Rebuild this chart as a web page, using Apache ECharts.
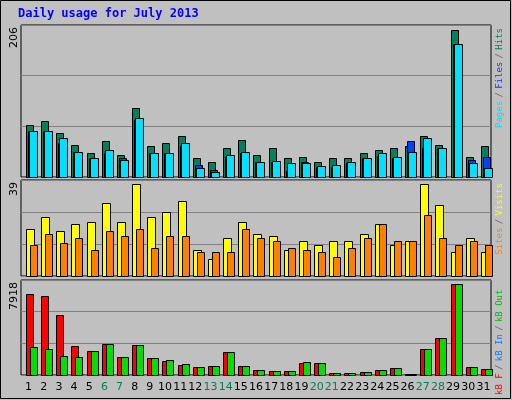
<!DOCTYPE html>
<html><head><meta charset="utf-8">
<script src="https://cdn.jsdelivr.net/npm/echarts@6/dist/echarts.min.js"></script>
<style>html,body{margin:0;padding:0;background:#c0c0c0}#c{width:512px;height:400px}</style>
</head><body><div id="c"></div>
<script>
const days = ['1','2','3','4','5','6','7','8','9','10','11','12','13','14','15','16','17','18','19','20','21','22','23','24','25','26','27','28','29','30','31'];
const weekend = ['6','7','13','14','20','21','27','28'];
const hits  = [73,78,61,45,34,50,31,96,43,47,58,26,21,40,52,31,40,27,28,21,26,27,33,38,40,43,58,45,206,28,44];
const files = [64,65,48,35,26,34,26,80,33,33,44,17,10,28,33,21,21,9,21,14,14,20,26,30,26,50,40,40,187,24,28];
const pages = [64,64,55,35,26,38,24,82,33,33,47,13,7,31,35,21,23,19,20,16,17,21,26,33,28,35,54,40,187,20,13];
const visits= [20,25,19,22,23,31,23,39,25,27,32,11,7,16,23,18,17,11,15,13,15,15,18,22,13,15,39,30,10,16,10];
const sites = [13,18,14,16,11,19,17,20,12,17,17,10,10,10,20,16,15,12,11,10,8,12,16,22,15,15,26,16,13,15,13];
const kbF   = [7047,6873,5220,2523,2088,2697,1566,2610,1479,1218,870,696,783,2001,783,435,348,348,1044,1044,174,174,261,435,609,87,2262,3219,7918,696,522];
const kbOut = [2436,2262,1653,1566,2088,2697,1566,2610,1479,1305,957,696,783,2001,783,435,348,348,1131,1044,174,174,261,435,609,87,2262,3219,7918,696,522];
const maxLabels = ['206','39','7918'];
const axMax = [213, 40.7, 8266];

function bars(vals, off, w, color, gi){
  return {type:'custom', xAxisIndex:gi, yAxisIndex:gi, data: vals.map((v,i)=>[i,v]),
    renderItem:(p,api)=>{
      const x=api.value(0), v=api.value(1);
      const t=api.coord([x,v]), b=api.coord([x,0]);
      const sw=api.size([1,0])[0];
      return {type:'rect', shape:{x:Math.round(t[0]-sw/2+off)+0.5, y:Math.round(t[1])+0.5, width:w, height:Math.round(b[1])-Math.round(t[1])},
        style:{fill:color, stroke:'#000', lineWidth:1}};
    }};
}
const grids=[{top:25,height:152},{top:180,height:96},{top:280,height:95}];
const mono='"DejaVu Sans Mono", monospace';
const chart=echarts.init(document.getElementById('c'));
chart.setOption({
  animation:false, backgroundColor:'#c0c0c0',
  grid: grids.map(g=>({left:21,right:21,top:g.top,height:g.height,show:true,backgroundColor:'#c0c0c0',borderColor:'#000',borderWidth:1})),
  xAxis: [0,1,2].map(i=>({type:'category',gridIndex:i,data:days,boundaryGap:true,
    axisLine:{show:false},axisTick:{show:false},
    axisLabel:{show:i===2,interval:0,margin:7,fontFamily:'DejaVu Sans',fontSize:11,
      formatter:v=>weekend.includes(v)?'{w|'+v+'}':'{n|'+v+'}',
      rich:{w:{color:'#00805C',fontFamily:'DejaVu Sans',fontSize:11},n:{color:'#000',fontFamily:'DejaVu Sans',fontSize:11}}}})),
  yAxis: [0,1,2].map(i=>({type:'value',gridIndex:i,min:0,max:axMax[i],interval:axMax[i]/3,
    axisLabel:{show:false},axisLine:{show:false},axisTick:{show:false},
    splitLine:{lineStyle:{color:'#808080',width:1}}})),
  series:[
    bars(hits,5,7,'#00805C',0), bars(files,7,7,'#0040FF',0), bars(pages,8,8,'#00E0FF',0),
    bars(visits,5,8,'#FFFF00',1), bars(sites,9,7,'#FF8000',1),
    bars(kbF,5,7,'#FF0000',2), bars(kbOut,9,7,'#00E000',2)
  ],
  graphic:[
    {type:'rect',shape:{x:0.5,y:0.5,width:510,height:398},style:{fill:null,stroke:'#000',lineWidth:1}},
    {type:'text',left:18,top:8,style:{text:'Daily usage for July 2013',font:'bold 12px '+mono,fill:'#0000FF'}},
    {type:'text',x:14,y:27,rotation:Math.PI/2,style:{text:maxLabels[0],font:'11px "DejaVu Sans"',fill:'#000',align:'right',verticalAlign:'middle'}},
    {type:'text',x:14,y:182,rotation:Math.PI/2,style:{text:maxLabels[1],font:'11px "DejaVu Sans"',fill:'#000',align:'right',verticalAlign:'middle'}},
    {type:'text',x:14,y:282,rotation:Math.PI/2,style:{text:maxLabels[2],font:'11px "DejaVu Sans"',fill:'#000',align:'right',verticalAlign:'middle'}},
    {type:'text',x:500,y:28,rotation:Math.PI/2,style:{align:'right',verticalAlign:'middle',
      text:'{p|Pages} {s|/} {f|Files} {s|/} {h|Hits}',
      rich:{p:{fill:'#00E0FF',font:'9px '+mono},f:{fill:'#0040FF',font:'9px '+mono},h:{fill:'#00805C',font:'9px '+mono},s:{fill:'#606060',font:'9px '+mono}}}},
    {type:'text',x:500,y:183,rotation:Math.PI/2,style:{align:'right',verticalAlign:'middle',
      text:'{o|Sites} {s|/} {v|Visits}',
      rich:{o:{fill:'#FF8000',font:'9px '+mono},v:{fill:'#FFFF00',font:'9px '+mono},s:{fill:'#606060',font:'9px '+mono}}}},
    {type:'text',x:500,y:395,rotation:Math.PI/2,style:{align:'left',verticalAlign:'middle',
      text:'{r|kB F} {s|/} {b|kB In} {s|/} {g|kB Out}',
      rich:{r:{fill:'#FF0000',font:'9px '+mono},b:{fill:'#0080FF',font:'9px '+mono},g:{fill:'#00C000',font:'9px '+mono},s:{fill:'#606060',font:'9px '+mono}}}}
  ]
});
</script></body></html>
